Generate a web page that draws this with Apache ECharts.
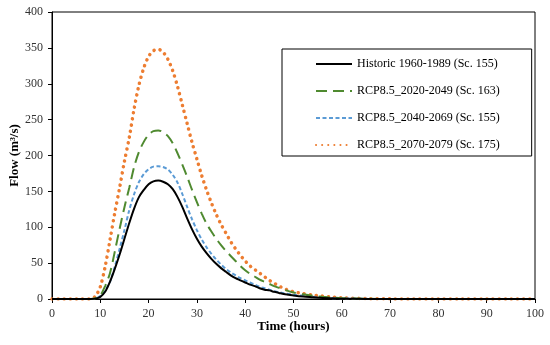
<!DOCTYPE html>
<html><head><meta charset="utf-8">
<script src="https://cdn.jsdelivr.net/npm/echarts@6/dist/echarts.min.js"></script>
<style>html,body{margin:0;padding:0;background:#fff}#c{width:550px;height:345px}</style>
</head><body><div id="c"></div>
<script>
const time = [0,2,4,6,8,9,10,11,12,13,14,15,16,17,18,19,20,21,22,23,24,25,26,27,28,29,30,31,32,33,34,35,36,37,38,39,40,41,42,43,44,45,46,47,48,49,50,52,54,56,58,60,65,70,75,80,85,90,95,100];
const historic = [0,0,0,0,0,0.5,3,10,24,42,62,84,106,126,142,152,160,164,165,163.5,160,153,142,128,112,97,84,73,64,56,49,43,38,33,29,26,23,20,18,15,13,12,10,8.5,7,6,5,3.5,2.5,1.5,1,0.5,0.1,0,0,0,0,0,0,0];
const rcp2020 = [0,0,0,0,0,1,5,18,36,66,98,128,155,184,205,219,229,234,235,232.5,227,217,203,187,170,152,135,119,105,94,84,75,67,60,53,46,40,35,31,27,24,21,18,15.5,13,11,9,6.5,4.5,3,2,1.2,0.3,0,0,0,0,0,0,0];
const rcp2040 = [0,0,0,0,0,0.5,4,12,24,45,70,96,124,146,163,174,181,184.5,185,184,180.5,173,162,146,128,111,96,83,72,63,55,48,42,37,33,29,26,23,20,17,15,13,11,9.5,8,7,6,4.5,3,2,1.2,0.8,0.2,0,0,0,0,0,0,0];
const rcp2070 = [0,0,0,0,0,4,17,45,82,120,155,192,225,265,298,322,338,346,348,344,334,318,296,270,244,218,195,172,152,134,118,104,92,80,70,61,53,46,41,36,31,26,22,18,15,12,10,7.5,5.5,4,2.8,1.8,0.6,0.2,0,0,0,0,0,0];
const seriesNames = ['Historic 1960-1989 (Sc. 155)','RCP8.5_2020-2049 (Sc. 163)','RCP8.5_2040-2069 (Sc. 155)','RCP8.5_2070-2079 (Sc. 175)'];
const xTicks = {min:0,max:100,interval:10};
const yTicks = {min:0,max:400,interval:50};

const pair = arr => time.map((t,i)=>[t,arr[i]]);
const font = 'Liberation Serif';
const chart = echarts.init(document.getElementById('c'));
chart.setOption({
  animation:false,
  backgroundColor:'#fff',
  grid:{left:52,right:15,top:12,bottom:46,containLabel:false,outerBoundsMode:'none',show:true,borderColor:'#000',borderWidth:1,backgroundColor:'transparent'},
  legend:{
    orient:'vertical',left:282,top:49,
    padding:[9,32,5,33],itemGap:15,itemWidth:36,itemHeight:12,
    borderColor:'#000',borderWidth:1,
    itemStyle:{opacity:0},
    textStyle:{fontFamily:font,fontSize:12,color:'#000'},
    data:seriesNames
  },
  xAxis:{type:'value',min:xTicks.min,max:xTicks.max,interval:xTicks.interval,
    name:'Time (hours)',nameLocation:'middle',nameGap:21,nameMoveOverlap:false,
    nameTextStyle:{fontFamily:font,fontSize:13,fontWeight:'bold',color:'#000'},
    axisLine:{show:true,lineStyle:{color:'#000',width:1}},
    axisTick:{show:true,length:4,lineStyle:{color:'#000'}},
    axisLabel:{fontFamily:font,fontSize:12,color:'#333',margin:9},
    splitLine:{show:false}},
  yAxis:{type:'value',min:yTicks.min,max:yTicks.max,interval:yTicks.interval,
    name:'Flow (m³/s)',nameLocation:'middle',nameGap:31,nameMoveOverlap:false,
    nameTextStyle:{fontFamily:font,fontSize:13,fontWeight:'bold',color:'#000'},
    axisLine:{show:true,lineStyle:{color:'#000',width:1}},
    axisTick:{show:true,length:4,lineStyle:{color:'#000'}},
    axisLabel:{fontFamily:font,fontSize:12,color:'#333',margin:9},
    splitLine:{show:false}},
  series:[
    {name:seriesNames[0],type:'line',data:pair(historic),smooth:0.3,showSymbol:false,symbol:'none',
      itemStyle:{color:'#000'},lineStyle:{color:'#000',width:2,type:'solid'},z:4},
    {name:seriesNames[1],type:'line',data:pair(rcp2020),smooth:0.3,showSymbol:false,symbol:'none',
      itemStyle:{color:'#4f8a30'},lineStyle:{color:'#4f8a30',width:2,type:[11,6]},z:3},
    {name:seriesNames[2],type:'line',data:pair(rcp2040),smooth:0.3,showSymbol:false,symbol:'none',
      itemStyle:{color:'#5b9bd5'},lineStyle:{color:'#5b9bd5',width:2,type:[4,2.5]},z:2},
    {name:seriesNames[3],type:'line',data:pair(rcp2070),smooth:0.3,showSymbol:false,symbol:'none',
      itemStyle:{color:'#ed7d31'},lineStyle:{color:'#ed7d31',width:3.5,type:[0.1,6],cap:'round'},z:1}
  ]
});
</script></body></html>
